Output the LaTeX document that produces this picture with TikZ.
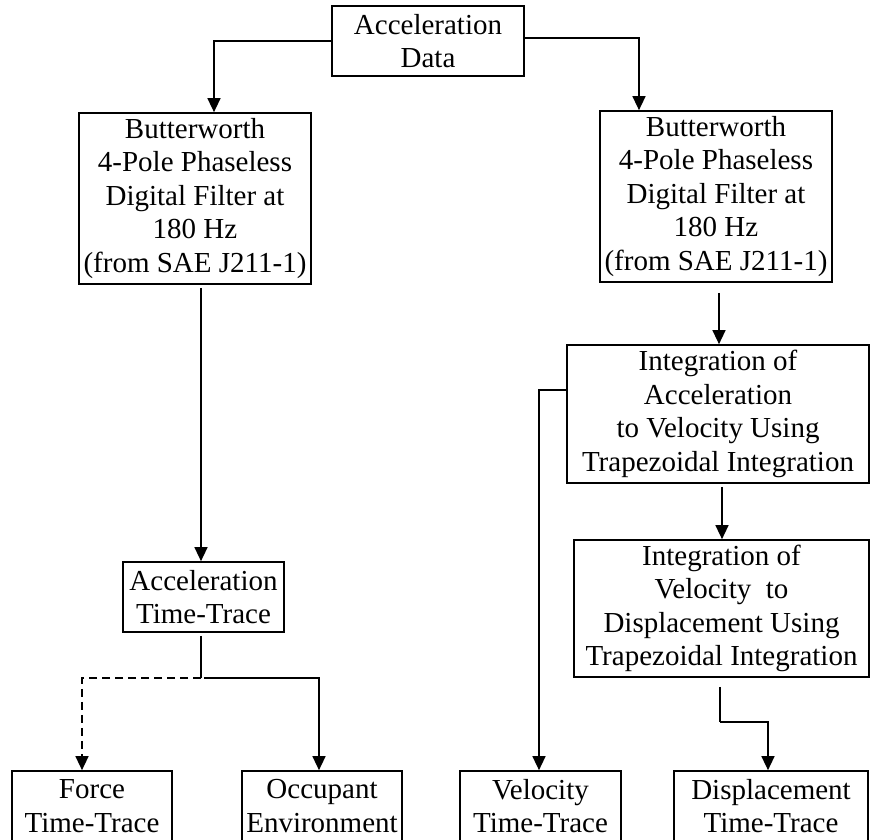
\documentclass[tikz,border=0pt]{standalone}
\usepackage{fontspec}
\setmainfont{Liberation Serif}
\usetikzlibrary{arrows.meta}
\begin{document}
\begin{tikzpicture}[x=1pt,y=-1pt,
  box/.style={draw, line width=1.7pt, inner sep=0pt, align=center, font=\fontsize{29}{33.5}\selectfont},
  conn/.style={line width=1.4pt, -{Triangle[length=14pt,width=13pt]}},
  plain/.style={line width=1.4pt},
  dashconn/.style={line width=1.4pt, dash pattern=on 8pt off 5pt, -{Triangle[length=14pt,width=13pt]}}]
\clip (0,0) rectangle (870,839);
\fill[white] (0,0) rectangle (870,839);
% boxes
\node[box, minimum width=192pt, minimum height=70pt] (A) at (428,41) {Acceleration\\Data};
\node[box, minimum width=232pt, minimum height=171pt] (F1) at (195,198.5) {Butterworth\\4-Pole Phaseless\\Digital Filter at\\180 Hz\\(from SAE J211-1)};
\node[box, minimum width=232pt, minimum height=171pt] (F2) at (716,196.5) {Butterworth\\4-Pole Phaseless\\Digital Filter at\\180 Hz\\(from SAE J211-1)};
\node[box, minimum width=161pt, minimum height=70pt] (ATT) at (203.5,597) {Acceleration\\Time-Trace};
\node[box, minimum width=302pt, minimum height=138pt] (I1) at (718,414) {Integration of\\Acceleration\\to Velocity Using\\Trapezoidal Integration};
\node[box, minimum width=295pt, minimum height=137pt] (I2) at (721.5,608.5) {Integration of\\Velocity~ to\\Displacement Using\\Trapezoidal Integration};
\node[box, minimum width=160pt, minimum height=70pt] (FT) at (92,806) {Force\\Time-Trace};
\node[box, minimum width=160pt, minimum height=70pt] (OE) at (322,806) {Occupant\\Environment};
\node[box, minimum width=161pt, minimum height=70pt] (VT) at (540.5,806) {Velocity\\Time-Trace};
\node[box, minimum width=194pt, minimum height=70pt] (DT) at (771,806) {Displacement\\Time-Trace};
% helper coordinates
\coordinate (attin) at ([xshift=-2.5pt]ATT.north);
\coordinate (f1out) at ([yshift=-3pt]F1.south -| attin);
\coordinate (i1in) at ([xshift=1pt]I1.north);
\coordinate (f2out) at ([yshift=-10pt]F2.south -| i1in);
\coordinate (i2in) at ([xshift=0.5pt]I2.north);
\coordinate (i1out) at ([yshift=-3pt]I1.south -| i2in);
% connectors
\draw[conn] (A.west) -| ([xshift=19pt]F1.north);
\draw[conn] ([yshift=3pt]A.east) -| ([xshift=-77pt]F2.north);
\draw[conn] (f1out) -- (attin);
\draw[conn] (f2out) -- (i1in);
\draw[conn] (i1out) -- (i2in);
\draw[conn] ([yshift=24pt]I1.west) -| ([xshift=-1.5pt]VT.north);
\coordinate (d1) at ([xshift=-1.5pt,yshift=-9pt]I2.south);
\coordinate (d2) at ([yshift=-35pt]d1);
\draw[plain] (d1) -- (d2);
\draw[conn] (d2) -| ([xshift=-3pt]DT.north);
\coordinate (s0) at ([xshift=-2.5pt,yshift=-3pt]ATT.south);
\coordinate (s1) at ([yshift=-42pt]s0);
\draw[plain] (s0) -- (s1);
\draw[dashconn] (s1) -| ([xshift=-10pt]FT.north);
\draw[conn] ([xshift=3pt]s1) -| ([xshift=-3pt]OE.north);
\end{tikzpicture}
\end{document}
